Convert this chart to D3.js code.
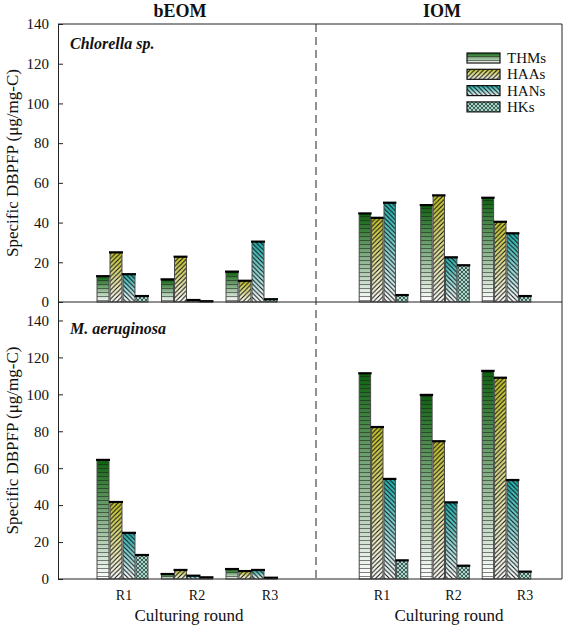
<!DOCTYPE html>
<html><head><meta charset="utf-8">
<script src="https://cdn.jsdelivr.net/npm/d3@7/dist/d3.min.js"></script>
<style>body{margin:0;background:#fff}svg{display:block}</style>
</head><body><svg id="c" width="567" height="627"></svg>
<script>
const rounds = ["R1","R2","R3"];
const series = ["THMs","HAAs","HANs","HKs"];
const yTicks = [0,20,40,60,80,100,120,140];
// rows = series (THMs, HAAs, HANs, HKs), columns = rounds (R1, R2, R3)
const chlorella_bEOM = [[13,11.4,15.3],[25,22.8,10.7],[14,1,30.4],[3,0.4,1.4]];
const chlorella_IOM  = [[44.6,48.8,52.5],[42.4,53.7,40.4],[50,22.5,34.6],[3.5,18.5,3]];
const micro_bEOM     = [[64.5,2.7,5.4],[41.7,4.9,4.3],[25,1.8,4.9],[13,0.9,0.7]];
const micro_IOM      = [[111.4,99.7,112.7],[82.3,74.6,109],[54.2,41.5,53.6],[10.1,7.2,4]];
const topColors = ["#0c600e","#c2c22a","#1fb1ae","#2c5e52"];
const FONT = "'Liberation Serif','Times New Roman',serif";

const svg = d3.select("#c");
const defs = svg.append("defs");
series.forEach((s,i)=>{
  const g = defs.append("linearGradient").attr("id","g"+i).attr("x1",0).attr("y1",0).attr("x2",0).attr("y2",1);
  if(i<3){
    g.append("stop").attr("offset","0%").attr("stop-color",topColors[i]);
    g.append("stop").attr("offset","100%").attr("stop-color","#ffffff");
  } else {
    g.append("stop").attr("offset","0%").attr("stop-color",topColors[i]);
    g.append("stop").attr("offset","100%").attr("stop-color","#3d7264");
  }
});
let p = defs.append("pattern").attr("id","p0").attr("patternUnits","userSpaceOnUse").attr("width",8).attr("height",4);
p.append("line").attr("x1",0).attr("x2",8).attr("y1",0.5).attr("y2",0.5).attr("stroke","rgba(30,30,30,0.55)").attr("stroke-width",1);
p = defs.append("pattern").attr("id","p1").attr("patternUnits","userSpaceOnUse").attr("width",4.5).attr("height",4.5);
p.append("path").attr("d","M-1,5.5 L5.5,-1 M-1,1 L1,-1 M3.5,5.5 L5.5,3.5").attr("stroke","#111").attr("stroke-width",1.1);
p = defs.append("pattern").attr("id","p2").attr("patternUnits","userSpaceOnUse").attr("width",4.5).attr("height",4.5);
p.append("path").attr("d","M-1,-1 L5.5,5.5 M3.5,-1 L5.5,1 M-1,3.5 L1,5.5").attr("stroke","#111").attr("stroke-width",1.1);
p = defs.append("pattern").attr("id","p3").attr("patternUnits","userSpaceOnUse").attr("width",4).attr("height",4);
p.append("path").attr("d","M0,0 L4,4 M4,0 L0,4").attr("stroke","rgba(225,240,235,0.85)").attr("stroke-width",0.9);

const L = 58, R = 562, T = 24, MID = 302, B = 579, DX = 316;
const yTop = d3.scaleLinear().domain([0,140]).range([MID,T]);
const yBot = d3.scaleLinear().domain([0,150]).range([B,MID]);
const xLeft = d3.scaleBand().domain(rounds).range([L,DX]).paddingInner(0.21).paddingOuter(0.605);
const xRight = d3.scaleBand().domain(rounds).range([322,568]).paddingInner(0.21).paddingOuter(0.605);
const labLeft = d3.scalePoint().domain(rounds).range([124,270]);
const labRight = d3.scalePoint().domain(rounds).range([382,525]);

function drawBars(data, x, y){
  const inner = d3.scaleBand().domain(series).range([0,x.bandwidth()]).paddingInner(0.08);
  const g = svg.append("g");
  data.forEach((vals,si)=>{
    vals.forEach((v,ri)=>{
      const x0 = x(rounds[ri]) + inner(series[si]);
      const w = inner.bandwidth();
      const y0 = y(v), h = y(0)-y(v);
      g.append("rect").attr("x",x0).attr("y",y0).attr("width",w).attr("height",h).attr("fill","url(#g"+si+")");
      g.append("rect").attr("x",x0).attr("y",y0).attr("width",w).attr("height",h).attr("fill","url(#p"+si+")");
      g.append("rect").attr("x",x0).attr("y",y0).attr("width",w).attr("height",h).attr("fill","none").attr("stroke","#4a4a4a").attr("stroke-width",1);
      g.append("line").attr("x1",x0-1).attr("x2",x0+w+1).attr("y1",y0).attr("y2",y0).attr("stroke","#000").attr("stroke-width",2.2);
    });
  });
}
drawBars(chlorella_bEOM, xLeft, yTop);
drawBars(chlorella_IOM, xRight, yTop);
drawBars(micro_bEOM, xLeft, yBot);
drawBars(micro_IOM, xRight, yBot);

svg.append("line").attr("x1",L).attr("x2",R).attr("y1",T).attr("y2",T).attr("stroke","#222").attr("stroke-width",1);
svg.append("line").attr("x1",L).attr("x2",R).attr("y1",MID).attr("y2",MID).attr("stroke","#222").attr("stroke-width",1);
svg.append("line").attr("x1",L).attr("x2",R).attr("y1",B).attr("y2",B).attr("stroke","#222").attr("stroke-width",1);
svg.append("line").attr("x1",R).attr("x2",R).attr("y1",T).attr("y2",B).attr("stroke","#222").attr("stroke-width",1);
svg.append("line").attr("x1",DX).attr("x2",DX).attr("y1",T).attr("y2",B).attr("stroke","#222").attr("stroke-width",1).attr("stroke-dasharray","8,5");

function yAxis(y){
  const a = svg.append("g").attr("transform",`translate(${L},0)`)
    .call(d3.axisLeft(y).tickValues(yTicks).tickSize(-5).tickPadding(9));
  a.attr("font-family",FONT).attr("font-size",15);
  a.select(".domain").attr("stroke","#222");
  a.selectAll(".tick line").attr("stroke","#222");
  a.selectAll("text").style("font-family",FONT).style("font-size","15px").attr("fill","#111");
}
yAxis(yTop); yAxis(yBot);

function txt(x,y,s,size,opts={}){
  const t = svg.append("text").attr("x",x).attr("y",y).style("font-family",FONT).style("font-size",size+"px").attr("fill","#111").text(s);
  if(opts.anchor) t.attr("text-anchor",opts.anchor);
  if(opts.bold) t.style("font-weight","bold");
  if(opts.italic) t.style("font-style","italic");
  return t;
}
[labLeft,labRight].forEach(s=>{
  rounds.forEach(r=> txt(s(r),600,r,14,{anchor:"middle"}));
});
txt(189,621,"Culturing round",17,{anchor:"middle"});
txt(449,621,"Culturing round",17,{anchor:"middle"});

txt(180,17,"bEOM",18,{anchor:"middle",bold:true});
txt(442,17,"IOM",18,{anchor:"middle",bold:true});
txt(70,49,"Chlorella sp.",16,{bold:true,italic:true});
txt(70,334,"M. aeruginosa",16,{bold:true,italic:true});

[(T+MID)/2,(MID+B)/2].forEach(cy=>{
  txt(0,0,"Specific DBPFP (μg/mg-C)",17,{anchor:"middle"}).attr("x",null).attr("y",null)
    .attr("transform",`translate(18,${cy}) rotate(-90)`);
});

series.forEach((s,i)=>{
  const ly = 53 + i*16.3;
  const g = svg.append("g");
  g.append("rect").attr("x",467).attr("y",ly).attr("width",33).attr("height",10).attr("fill","url(#g"+i+")");
  g.append("rect").attr("x",467).attr("y",ly).attr("width",33).attr("height",10).attr("fill","url(#p"+i+")");
  g.append("rect").attr("x",467).attr("y",ly).attr("width",33).attr("height",10).attr("fill","none").attr("stroke","#111").attr("stroke-width",1.2);
  txt(507,ly+10,s,15);
});
</script></body></html>
